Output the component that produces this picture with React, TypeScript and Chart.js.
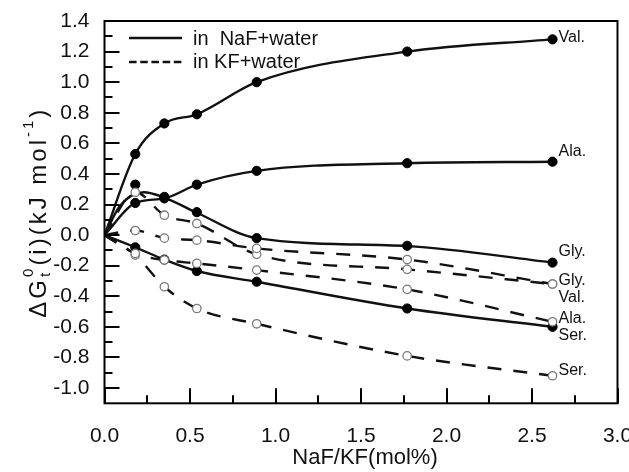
import React, { useEffect, useRef } from 'react';
import { Chart, registerables } from 'chart.js';

Chart.register(...registerables);

// ---- data ----
const conc = [0.18, 0.35, 0.54, 0.89, 1.77, 2.62];

const valNaF = [0.53, 0.73, 0.79, 1.0, 1.2, 1.28];
const alaNaF = [0.21, 0.24, 0.33, 0.42, 0.47, 0.48];
const glyNaF = [0.33, 0.25, 0.15, -0.02, -0.07, -0.18];
const serNaF = [-0.08, -0.16, -0.235, -0.305, -0.48, -0.6];

const glyKF = [0.03, -0.02, -0.033, -0.087, -0.16, -0.32];
const valKF = [0.28, 0.13, 0.076, -0.126, -0.224, -0.32];
const alaKF = [-0.12, -0.163, -0.185, -0.229, -0.355, -0.567];
const serKF = [-0.13, -0.338, -0.48, -0.58, -0.79, -0.92];

// fitted curve for Gly in NaF+water
const glyNaFFitX = [0, 0.09, 0.23, 0.35, 0.54, 0.89, 1.77, 2.62];
const glyNaFFitY = [0, 0.19, 0.28, 0.245, 0.146, -0.02, -0.072, -0.179];

// end labels
const endLabelText = ['Val.', 'Ala.', 'Gly.', 'Gly.', 'Val.', 'Ala.', 'Ser.', 'Ser.'];
const endLabelY = [1.293, 0.545, -0.109, -0.3, -0.41, -0.545, -0.654, -0.883];

// axes
const xMajorTicks = [0, 0.5, 1.0, 1.5, 2.0, 2.5, 3.0];
const xMinorTicks = [0.25, 0.75, 1.25, 1.75, 2.25, 2.75];
const yMajorTicks = [-1.0, -0.8, -0.6, -0.4, -0.2, 0.0, 0.2, 0.4, 0.6, 0.8, 1.0, 1.2, 1.4];
const yMinorTicks = [-0.9, -0.7, -0.5, -0.3, -0.1, 0.1, 0.3, 0.5, 0.7, 0.9, 1.1, 1.3];

const xTitle = 'NaF/KF(mol%)';
const legendSolid = 'in  NaF+water';
const legendDashed = 'in KF+water';

const FONT = "'Liberation Sans', Arial, Helvetica, sans-serif";
const TEXT = '#111';

const pts = (xs: number[], ys: number[]) => xs.map((x, i) => ({ x, y: ys[i] }));
const withOrigin = (ys: number[]) => pts([0, ...conc], [0, ...ys]);

const decor = {
  id: 'decor',
  beforeDraw(chart: any) {
    const ctx = chart.ctx;
    ctx.save();
    ctx.fillStyle = '#fff';
    ctx.fillRect(0, 0, chart.width, chart.height);
    ctx.restore();
  },
  afterDraw(chart: any) {
    const ctx: any = chart.ctx;
    const { left, right, top, bottom } = chart.chartArea;
    const xs = chart.scales.x;
    const ys = chart.scales.y;
    ctx.save();
    // frame
    ctx.strokeStyle = '#000';
    ctx.lineWidth = 2;
    ctx.setLineDash([]);
    ctx.strokeRect(left, top, right - left, bottom - top);
    // inward ticks
    ctx.beginPath();
    yMajorTicks.forEach((v) => {
      const p = Math.round(ys.getPixelForValue(v));
      ctx.moveTo(left, p);
      ctx.lineTo(left + 15, p);
    });
    yMinorTicks.forEach((v) => {
      const p = Math.round(ys.getPixelForValue(v));
      ctx.moveTo(left, p);
      ctx.lineTo(left + 8, p);
    });
    xMajorTicks.forEach((v) => {
      const p = Math.round(xs.getPixelForValue(v));
      ctx.moveTo(p, bottom);
      ctx.lineTo(p, bottom - 15);
    });
    xMinorTicks.forEach((v) => {
      const p = Math.round(xs.getPixelForValue(v));
      ctx.moveTo(p, bottom);
      ctx.lineTo(p, bottom - 8);
    });
    ctx.stroke();

    // legend
    ctx.lineWidth = 2.3;
    ctx.strokeStyle = '#111';
    ctx.beginPath();
    ctx.moveTo(129, 38);
    ctx.lineTo(182, 38);
    ctx.stroke();
    ctx.setLineDash([7.6, 3.6]);
    ctx.beginPath();
    ctx.moveTo(129, 62);
    ctx.lineTo(183, 62);
    ctx.stroke();
    ctx.setLineDash([]);
    ctx.fillStyle = TEXT;
    ctx.font = `20px ${FONT}`;
    ctx.textAlign = 'left';
    ctx.textBaseline = 'middle';
    ctx.fillText(legendSolid, 193, 39);
    ctx.fillText(legendDashed, 193, 62);

    // end labels
    ctx.font = `16px ${FONT}`;
    const lx = xs.getPixelForValue(conc[conc.length - 1]) + 6;
    endLabelText.forEach((t, i) => {
      ctx.fillText(t, lx, ys.getPixelForValue(endLabelY[i]));
    });

    // x title
    ctx.font = `22px ${FONT}`;
    ctx.textAlign = 'center';
    ctx.fillText(xTitle, (left + right) / 2 + 4, 458);

    // y title with super/subscripts
    const big = 24;
    const small = 15;
    const spacing = 3;
    const parts = [
      { t: '\u0394G', f: big, dy: 0, adv: false },
      { t: '0', f: small, dy: -10, adv: false },
      { t: 't', f: small, dy: 7, adv: true },
      { t: '(i)(kJ mol', f: big, dy: 0, adv: true },
      { t: '-1', f: small, dy: -10, adv: true },
      { t: ')', f: big, dy: 0, adv: true },
    ];
    ctx.letterSpacing = `${spacing}px`;
    const widths = parts.map((p) => {
      ctx.font = `${p.f}px ${FONT}`;
      return ctx.measureText(p.t).width;
    });
    // advance: 'ΔG' full, then stacked sup/sub use the wider of the two
    const adv = [widths[0], 0, Math.max(widths[1], widths[2]), widths[3], widths[4], widths[5]];
    const total = adv.reduce((a, b) => a + b, 0);
    ctx.translate(39, (top + bottom) / 2);
    ctx.rotate(-Math.PI / 2);
    ctx.textAlign = 'left';
    ctx.textBaseline = 'middle';
    let x = -total / 2;
    parts.forEach((p, i) => {
      ctx.font = `${p.f}px ${FONT}`;
      ctx.fillText(p.t, x, p.dy);
      x += adv[i];
    });
    ctx.letterSpacing = '0px';
    ctx.restore();
  },
};

export default function App() {
  const ref = useRef<HTMLCanvasElement | null>(null);
  useEffect(() => {
    if (!ref.current) return;
    const lineDs = (data: any[], dashed: boolean) => ({
      data,
      showLine: true,
      pointRadius: 0,
      borderColor: '#111',
      borderWidth: 2.4,
      borderDash: dashed ? [14, 12] : [],
      cubicInterpolationMode: 'monotone',
      fill: false,
      order: 2,
    });
    const markDs = (ys: number[], open: boolean) => ({
      data: pts(conc, ys),
      showLine: false,
      pointRadius: open ? 4.2 : 4.6,
      pointBackgroundColor: open ? '#fff' : '#000',
      pointBorderColor: open ? '#7a7a7a' : '#000',
      pointBorderWidth: open ? 1.3 : 1,
      order: 1,
    });
    const chart = new Chart(ref.current, {
      type: 'scatter',
      data: {
        datasets: [
          lineDs(withOrigin(valNaF), false),
          lineDs(withOrigin(alaNaF), false),
          lineDs(pts(glyNaFFitX, glyNaFFitY), false),
          lineDs(withOrigin(serNaF), false),
          lineDs(withOrigin(glyKF), true),
          lineDs(withOrigin(valKF), true),
          lineDs(withOrigin(alaKF), true),
          lineDs(withOrigin(serKF), true),
          markDs(glyKF, true),
          markDs(valKF, true),
          markDs(alaKF, true),
          markDs(serKF, true),
          markDs(valNaF, false),
          markDs(alaNaF, false),
          markDs(glyNaF, false),
          markDs(serNaF, false),
        ] as any,
      },
      options: {
        animation: false,
        responsive: false,
        maintainAspectRatio: false,
        layout: { padding: { left: 0, right: 11.5, top: 21, bottom: 0 } },
        plugins: { legend: { display: false }, tooltip: { enabled: false } },
        scales: {
          x: {
            type: 'linear',
            min: 0,
            max: 3,
            afterBuildTicks: (s: any) => {
              s.ticks = xMajorTicks.map((v) => ({ value: v }));
            },
            afterFit: (s: any) => {
              s.height = 472 - 403.3;
              s.paddingLeft = 0;
              s.paddingRight = 0;
            },
            ticks: {
              autoSkip: false,
              maxRotation: 0,
              padding: 20,
              color: TEXT,
              font: { size: 21, family: FONT },
              callback: (v: any) => Number(v).toFixed(1),
            },
            grid: { display: false, drawTicks: false },
            border: { display: false },
          },
          y: {
            type: 'linear',
            min: -1.1,
            max: 1.4,
            afterBuildTicks: (s: any) => {
              s.ticks = yMajorTicks.map((v) => ({ value: v }));
            },
            afterFit: (s: any) => {
              s.width = 104.5;
              s.paddingTop = 0;
              s.paddingBottom = 0;
            },
            ticks: {
              autoSkip: false,
              padding: 15,
              color: TEXT,
              font: { size: 21, family: FONT },
              callback: (v: any) => Number(v).toFixed(1),
            },
            grid: { display: false, drawTicks: false },
            border: { display: false },
          },
        },
      } as any,
      plugins: [decor],
    });
    return () => chart.destroy();
  }, []);
  return (
    <div style={{ position: 'fixed', left: 0, top: 0, width: 629, height: 472, background: '#fff' }}>
      <canvas ref={ref} width={629} height={472} style={{ display: 'block' }} />
    </div>
  );
}
